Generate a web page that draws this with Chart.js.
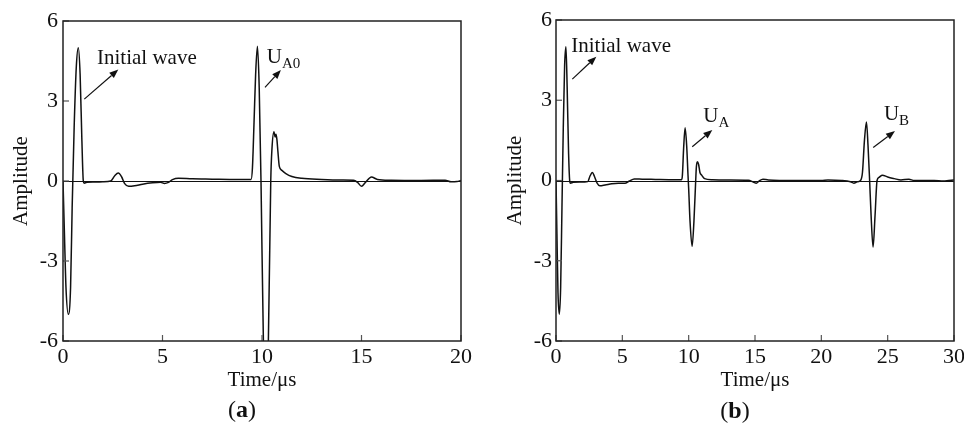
<!DOCTYPE html>
<html>
<head>
<meta charset="utf-8">
<script src="https://cdn.jsdelivr.net/npm/chart.js@4.4.0/dist/chart.umd.min.js"></script>
<style>
  html, body { margin: 0; padding: 0; background: #fff; overflow: hidden; }
  body { width: 964px; height: 435px; position: relative; }
  #wrapA { position: absolute; left: 0; top: 0; width: 482px; height: 435px; }
  #wrapB { position: absolute; left: 482px; top: 0; width: 500px; height: 435px; }
</style>
</head>
<body>
<div id="wrapA"><canvas id="chartA" width="482" height="435"></canvas></div>
<div id="wrapB"><canvas id="chartB" width="500" height="435"></canvas></div>
<script>
// panel (a): time in µs, amplitude
const timeA = [0, 0.08, 0.15, 0.27, 0.38, 0.46, 0.56, 0.67, 0.77, 0.86, 0.95, 1.02, 1.06, 1.2, 1.6, 2.0, 2.4, 2.6, 2.78, 2.95, 3.1, 3.3, 3.6, 4.0, 4.5, 4.9, 5.1, 5.3, 5.5, 5.8, 6.5, 7.5, 8.5, 9.45,
  9.52, 9.6, 9.68, 9.77, 9.86, 9.95, 10.07, 10.2, 10.32, 10.44, 10.5, 10.6, 10.66, 10.7, 10.75, 10.8, 10.87, 11.0, 11.2, 11.5, 12.0, 13.0, 14.0, 14.6,
  14.8, 15.0, 15.2, 15.5, 15.8, 16.5, 18.0, 19.2, 19.5, 19.8, 20.0];
const ampA = [0, -2.2, -4.0, -5.0, -4.0, -1.0, 2.0, 4.3, 5.0, 4.0, 1.5, 0, -0.08, -0.05, -0.04, -0.03, 0, 0.2, 0.3, 0.15, -0.1, -0.2, -0.18, -0.12, -0.07, -0.05, -0.09, -0.05, 0.05, 0.1, 0.08, 0.07, 0.06, 0.06,
  0.5, 2.2, 4.0, 5.05, 3.5, 0, -6, -8, -6, 0, 1.2, 1.85, 1.65, 1.75, 1.55, 1.1, 0.55, 0.4, 0.28, 0.17, 0.1, 0.06, 0.04, 0.03,
  -0.05, -0.2, -0.05, 0.15, 0.06, 0.03, 0.02, 0.03, -0.03, -0.02, 0.02];

// panel (b)
const timeB = [0, 0.07, 0.15, 0.25, 0.35, 0.45, 0.55, 0.65, 0.75, 0.84, 0.95, 1.03, 1.08, 1.3, 1.8, 2.4, 2.55, 2.74, 2.9, 3.1, 3.3, 3.7, 4.2, 4.7, 5.2, 5.5, 5.9, 6.5, 7.5, 8.5, 9.45,
  9.52, 9.62, 9.73, 9.85, 9.95, 10.0, 10.1, 10.26, 10.4, 10.53, 10.58, 10.65, 10.75, 10.85, 10.98, 11.2, 11.8, 13.0, 14.5,
  14.9, 15.1, 15.3, 15.6, 16.0, 18.0, 20.0, 20.5, 21.5, 22.2, 22.45, 22.7, 22.95,
  23.1, 23.25, 23.4, 23.52, 23.64, 23.75, 23.9, 24.05, 24.2, 24.35, 24.6, 25.0, 25.5, 26.0, 26.6, 27.0, 28.5, 29.2, 29.6, 30.0];
const ampB = [0, -2.0, -4.2, -5.0, -4.0, -1.0, 2.0, 4.3, 5.0, 3.5, 1.0, 0, -0.1, -0.07, -0.06, -0.04, 0.15, 0.3, 0.15, -0.1, -0.2, -0.17, -0.12, -0.1, -0.1, -0.03, 0.06, 0.05, 0.04, 0.03, 0.03,
  0.15, 1.2, 1.97, 1.3, 0.2, -0.3, -1.5, -2.46, -1.5, 0, 0.5, 0.7, 0.6, 0.3, 0.2, 0.07, 0.03, 0.02, 0.01,
  -0.07, -0.1, -0.02, 0.05, 0.02, 0, 0, 0.02, 0, -0.05, -0.1, -0.05, 0,
  0.3, 1.5, 2.19, 1.3, 0, -1.3, -2.49, -1.3, 0, 0.12, 0.2, 0.13, 0.07, 0.02, 0.05, 0, 0, -0.02, 0, 0.02];

const yTicks = [-6, -3, 0, 3, 6];
const xTicksA = [0, 5, 10, 15, 20];
const xTicksB = [0, 5, 10, 15, 20, 25, 30];

const serif = "'Liberation Serif', 'Times New Roman', serif";
Chart.defaults.font.family = serif;
Chart.defaults.color = '#111';

// frame, inward ticks, zero line, annotations and caption
const decor = {
  id: 'decor',
  beforeDatasetsDraw(chart) {
    const { ctx, chartArea: a, scales: { x, y } } = chart;
    ctx.save();
    ctx.strokeStyle = '#111';
    ctx.lineWidth = 1;
    const y0 = Math.round(y.getPixelForValue(0)) + 0.5;
    ctx.beginPath(); ctx.moveTo(a.left, y0); ctx.lineTo(a.right, y0); ctx.stroke();
    ctx.restore();
  },
  afterDraw(chart, args, opts) {
    const { ctx, chartArea: a, scales: { x, y } } = chart;
    ctx.save();
    ctx.strokeStyle = '#555';
    ctx.lineWidth = 1.2;
    x.ticks.forEach(t => {
      const px = x.getPixelForValue(t.value);
      ctx.beginPath(); ctx.moveTo(px, a.bottom); ctx.lineTo(px, a.bottom - 6); ctx.stroke();
    });
    y.ticks.forEach(t => {
      const py = y.getPixelForValue(t.value);
      ctx.beginPath(); ctx.moveTo(a.left, py); ctx.lineTo(a.left + 6, py); ctx.stroke();
    });
    ctx.strokeStyle = '#222';
    ctx.lineWidth = 1.5;
    ctx.strokeRect(a.left, a.top, a.right - a.left, a.bottom - a.top);

    ctx.fillStyle = '#111';
    ctx.textBaseline = 'alphabetic';
    ctx.textAlign = 'left';
    opts.labels.forEach(l => {
      const px = x.getPixelForValue(l.x), py = y.getPixelForValue(l.y);
      ctx.font = '21px ' + serif;
      ctx.fillText(l.text, px, py);
      if (l.sub) {
        const w = ctx.measureText(l.text).width;
        ctx.font = '15px ' + serif;
        ctx.fillText(l.sub, px + w, py + 5);
      }
    });
    ctx.strokeStyle = '#111';
    ctx.lineWidth = 1.2;
    opts.arrows.forEach(r => {
      const x1 = x.getPixelForValue(r[0]), y1 = y.getPixelForValue(r[1]);
      const x2 = x.getPixelForValue(r[2]), y2 = y.getPixelForValue(r[3]);
      const ang = Math.atan2(y2 - y1, x2 - x1);
      const hl = 9, hw = 3.5;
      const bx = x2 - hl * Math.cos(ang), by = y2 - hl * Math.sin(ang);
      ctx.beginPath(); ctx.moveTo(x1, y1); ctx.lineTo(bx, by); ctx.stroke();
      ctx.beginPath();
      ctx.moveTo(x2, y2);
      ctx.lineTo(bx + hw * Math.sin(ang), by - hw * Math.cos(ang));
      ctx.lineTo(bx - hw * Math.sin(ang), by + hw * Math.cos(ang));
      ctx.closePath(); ctx.fill();
    });

    // caption "(a)" with bold letter
    ctx.font = '24px ' + serif;
    const pw = ctx.measureText('(').width;
    ctx.font = 'bold 24px ' + serif;
    const lw = ctx.measureText(opts.caption).width;
    let cx = opts.capX - (2 * pw + lw) / 2;
    ctx.font = '24px ' + serif;
    ctx.fillText('(', cx, opts.capY);
    ctx.font = 'bold 24px ' + serif;
    ctx.fillText(opts.caption, cx + pw, opts.capY);
    ctx.font = '24px ' + serif;
    ctx.fillText(')', cx + pw + lw, opts.capY);
    ctx.restore();
  }
};

function makeChart(id, times, amps, xTicks, xMax, yAxisW, ytPad, yTitlePad, pad, notes) {
  const points = times.map((t, i) => ({ x: t, y: amps[i] }));
  return new Chart(document.getElementById(id), {
    type: 'line',
    data: {
      datasets: [{
        data: points,
        borderColor: '#111',
        borderWidth: 1.5,
        pointRadius: 0,
        cubicInterpolationMode: 'monotone',
        fill: false
      }]
    },
    options: {
      responsive: false,
      animation: false,
      events: [],
      layout: { padding: pad },
      plugins: { legend: { display: false }, tooltip: { enabled: false }, decor: notes },
      scales: {
        x: {
          type: 'linear',
          min: 0,
          max: xMax,
          grid: { display: false, drawTicks: false },
          border: { display: false },
          afterBuildTicks: s => { s.ticks = xTicks.map(v => ({ value: v })); },
          afterFit: s => { s.height = 60; },
          ticks: { font: { size: 22 }, padding: 3, maxRotation: 0, color: '#111' },
          title: { display: true, text: 'Time/μs', font: { size: 21 }, color: '#111', padding: { top: 0, bottom: 8 } }
        },
        y: {
          min: -6,
          max: 6,
          grid: { display: false, drawTicks: false },
          border: { display: false },
          afterBuildTicks: s => { s.ticks = yTicks.map(v => ({ value: v })); },
          afterFit: s => { s.width = yAxisW; },
          ticks: { font: { size: 22 }, padding: ytPad, color: '#111' },
          title: { display: true, text: 'Amplitude', font: { size: 21 }, color: '#111', padding: { top: yTitlePad, bottom: 0 } }
        }
      }
    },
    plugins: [decor]
  });
}

makeChart('chartA', timeA, ampA, xTicksA, 20, 63, 5, 9,
  { left: 0, right: 21, top: 21, bottom: 34 },
  {
    labels: [{ text: 'Initial wave', x: 1.71, y: 4.39 }, { text: 'U', sub: 'A0', x: 10.24, y: 4.41 }],
    arrows: [[1.07, 3.07, 2.78, 4.18], [10.15, 3.51, 10.95, 4.16]],
    caption: 'a', capX: 242, capY: 417
  });

makeChart('chartB', timeB, ampB, xTicksB, 30, 74, 4, 21,
  { left: 0, right: 28, top: 20, bottom: 34 },
  {
    labels: [{ text: 'Initial wave', x: 1.15, y: 4.81 }, { text: 'U', sub: 'A', x: 11.1, y: 2.2 }, { text: 'U', sub: 'B', x: 24.72, y: 2.26 }],
    arrows: [[1.23, 3.79, 3.04, 4.63], [10.27, 1.26, 11.78, 1.89], [23.91, 1.23, 25.55, 1.85]],
    caption: 'b', capX: 253, capY: 418
  });
</script>
</body>
</html>
